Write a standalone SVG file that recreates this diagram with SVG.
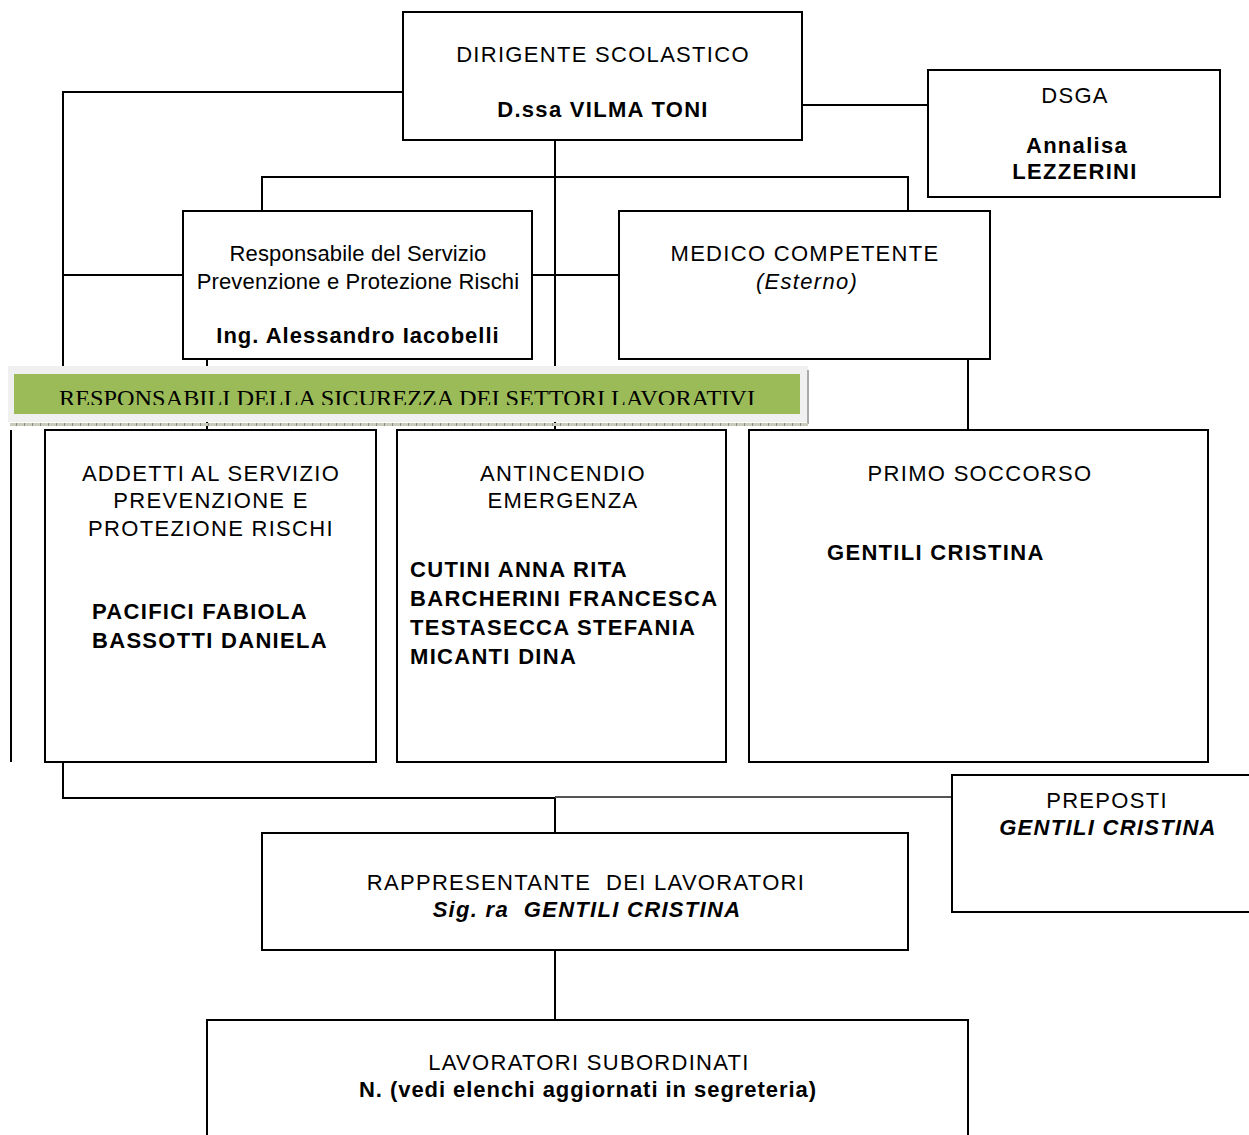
<svg xmlns="http://www.w3.org/2000/svg" width="1249" height="1135" viewBox="0 0 1249 1135">
<style>
.box{fill:#fff;stroke:#000;stroke-width:2}
.ln{fill:none;stroke:#000;stroke-width:2}
text{font-family:"Liberation Sans",Arial,sans-serif;font-size:22px;fill:#000;letter-spacing:1.3px}
.c{text-anchor:middle}
.b{font-weight:bold}
.i{font-style:italic}
.n{letter-spacing:0.15px}
</style>
<defs>
<clipPath id="bclip"><rect x="14" y="374" width="786" height="31"/></clipPath>
<pattern id="chk" width="8" height="3" patternUnits="userSpaceOnUse"><rect width="8" height="3" fill="#c9ccb8"/><rect width="1" height="3" fill="#888"/></pattern>
</defs>
<g id="connectors">
<polyline class="ln" points="403,92 63,92 63,366"/>
<line class="ln" x1="802" y1="105" x2="928" y2="105"/>
<line class="ln" x1="555" y1="140" x2="555" y2="430"/>
<polyline class="ln" points="262,211 262,177 908,177 908,211"/>
<line class="ln" x1="63" y1="275" x2="183" y2="275"/>
<line class="ln" x1="532" y1="275" x2="619" y2="275"/>
<line class="ln" x1="207" y1="359" x2="207" y2="430"/>
<line class="ln" x1="968" y1="359" x2="968" y2="430"/>
<line class="ln" x1="11" y1="430" x2="11" y2="762"/>
<polyline class="ln" points="63,762 63,798 555,798 555,833"/>
<line x1="555" y1="797" x2="952" y2="797" stroke="#555" stroke-width="2"/>
<line class="ln" x1="555" y1="950" x2="555" y2="1020"/>
</g>
<g id="dirigente">
<rect class="box" x="403" y="12" width="399" height="128"/>
<text class="c" x="603" y="62">DIRIGENTE SCOLASTICO</text>
<text class="c b" x="603" y="117">D.ssa VILMA TONI</text>
</g>
<g id="dsga">
<rect class="box" x="928" y="70" width="292" height="127"/>
<text class="c" x="1075" y="103">DSGA</text>
<text class="c b" x="1077" y="153">Annalisa</text>
<text class="c b" x="1075" y="179">LEZZERINI</text>
</g>
<g id="rspp">
<rect class="box" x="183" y="211" width="349" height="148"/>
<text class="c n" x="358" y="261">Responsabile del Servizio</text>
<text class="c n" x="358" y="289">Prevenzione e Protezione Rischi</text>
<text class="c b" style="letter-spacing:1px" x="358" y="343">Ing. Alessandro Iacobelli</text>
</g>
<g id="medico">
<rect class="box" x="619" y="211" width="371" height="148"/>
<text class="c" x="805" y="261">MEDICO COMPETENTE</text>
<text class="c i" x="807" y="289">(Esterno)</text>
</g>
<g id="banner">
<rect x="8" y="366" width="800" height="56" fill="#f0f0f0"/>
<line x1="808" y1="370" x2="808" y2="424" stroke="#aaa" stroke-width="2"/>
<rect x="10" y="423" width="798" height="3" fill="url(#chk)"/>
<rect x="14" y="374" width="786" height="40" fill="#9bbb59"/>
<text x="59" y="406" clip-path="url(#bclip)" style="font-family:'Liberation Serif','Times New Roman',serif;font-size:24px;letter-spacing:0" textLength="696" lengthAdjust="spacingAndGlyphs">RESPONSABILI DELLA SICUREZZA DEI SETTORI LAVORATIVI</text>
</g>
<g id="addetti">
<rect class="box" x="45" y="430" width="331" height="332"/>
<text class="c" x="211" y="481">ADDETTI AL SERVIZIO</text>
<text class="c" x="211" y="508">PREVENZIONE E</text>
<text class="c" x="211" y="536">PROTEZIONE RISCHI</text>
<text class="b" x="92" y="619">PACIFICI FABIOLA</text>
<text class="b" x="92" y="648">BASSOTTI DANIELA</text>
</g>
<g id="antincendio">
<rect class="box" x="397" y="430" width="329" height="332"/>
<text class="c" x="563" y="481">ANTINCENDIO</text>
<text class="c" x="563" y="508">EMERGENZA</text>
<text class="b" x="410" y="577">CUTINI ANNA RITA</text>
<text class="b" x="410" y="606">BARCHERINI FRANCESCA</text>
<text class="b" x="410" y="635">TESTASECCA STEFANIA</text>
<text class="b" x="410" y="664">MICANTI DINA</text>
</g>
<g id="primo-soccorso">
<rect class="box" x="749" y="430" width="459" height="332"/>
<text class="c" x="980" y="481">PRIMO SOCCORSO</text>
<text class="b" x="827" y="560">GENTILI CRISTINA</text>
</g>
<g id="preposti">
<rect class="box" x="952" y="775" width="310" height="137"/>
<text class="c" x="1107" y="808">PREPOSTI</text>
<text class="c b i" x="1108" y="835">GENTILI CRISTINA</text>
</g>
<g id="rappresentante">
<rect class="box" x="262" y="833" width="646" height="117"/>
<text class="c" x="586" y="890" xml:space="preserve">RAPPRESENTANTE  DEI LAVORATORI</text>
<text class="c b i" x="587" y="917" xml:space="preserve">Sig. ra  GENTILI CRISTINA</text>
</g>
<g id="lavoratori">
<rect class="box" x="207" y="1020" width="761" height="130"/>
<text class="c" x="589" y="1070">LAVORATORI SUBORDINATI</text>
<text class="c b" style="letter-spacing:0.95px" x="588" y="1097">N. (vedi elenchi aggiornati in segreteria)</text>
</g>
</svg>
